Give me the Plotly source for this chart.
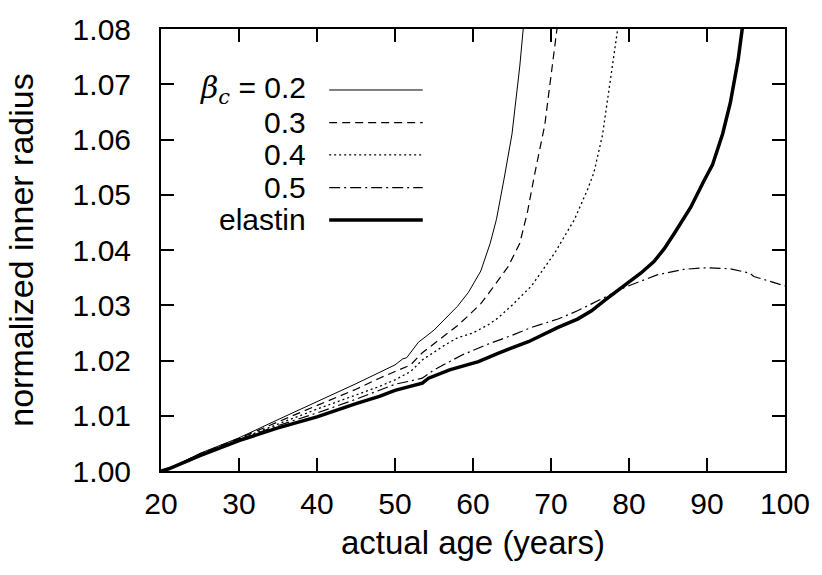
import plotly.graph_objects as go

# Normalized inner radius vs. actual age, for several collagen thresholds and elastin-only
age_b02 = [20, 21, 25, 30, 35, 40, 45, 50, 51, 51.5, 52, 53, 55, 56.4, 58, 59.4, 61, 62.2, 63, 64, 65, 66, 66.5]
rad_b02 = [1.000, 1.0004, 1.0032, 1.0060, 1.0093, 1.0125, 1.0158, 1.0192, 1.0203, 1.0205, 1.0215, 1.0233,
           1.0255, 1.0275, 1.0298, 1.0323, 1.0362, 1.0412, 1.0455, 1.0530, 1.0610, 1.0733, 1.0810]

age_b03 = [20, 21, 25, 30, 35, 40, 45, 48, 50, 52, 53.5, 55, 56.4, 58, 59.4, 61, 62.4, 64.5, 66, 67,
           67.9, 69.2, 70, 70.7, 70.9]
rad_b03 = [1.000, 1.0004, 1.0031, 1.0059, 1.0089, 1.0118, 1.0148, 1.0168, 1.0180, 1.0192, 1.0214, 1.0230,
           1.0245, 1.0263, 1.0281, 1.0303, 1.0329, 1.0370, 1.0412, 1.0470, 1.0537, 1.0626, 1.0715, 1.0795, 1.0815]

age_b04 = [20, 21, 25, 30, 35, 40, 45, 48, 50, 52, 53.5, 56.4, 58, 60, 62, 63.2, 65, 67.5, 69, 70.5,
           71.7, 73, 74.7, 75.5, 76.6, 77.7, 78.5, 78.7]
rad_b04 = [1.000, 1.0004, 1.0030, 1.0058, 1.0085, 1.0112, 1.0138, 1.0153, 1.0165, 1.0180, 1.0201, 1.0228,
           1.0241, 1.0250, 1.0265, 1.0277, 1.0300, 1.0335, 1.0365, 1.0395, 1.0424, 1.0455, 1.0510, 1.0540,
           1.0608, 1.0715, 1.0795, 1.0815]

age_b05 = [20, 21, 25, 30, 35, 40, 45, 48, 50, 52, 53.5, 55, 58.6, 62, 64.9, 67.5, 70.9, 73.4, 75.1,
           79.4, 83.6, 87, 90, 93, 95.5, 96, 100]
rad_b05 = [1.000, 1.0004, 1.0029, 1.0057, 1.0082, 1.0105, 1.0130, 1.0147, 1.0157, 1.0163, 1.0168, 1.0183,
           1.0210, 1.0230, 1.0245, 1.0260, 1.0275, 1.0290, 1.0302, 1.0332, 1.0355, 1.0365, 1.0368, 1.0366,
           1.0358, 1.0352, 1.0335]

age_el = [20, 21, 25, 30, 35, 40, 45, 48, 50, 52, 53.5, 54.3, 57, 60.7, 63.2, 67.1, 70.9, 73.4, 75.2,
          77, 79.4, 81.5, 83.2, 84.5, 85.8, 87.9, 89.6, 90.7, 92, 93, 94, 94.5, 94.7]
rad_el = [1.000, 1.0004, 1.0028, 1.0055, 1.0078, 1.0098, 1.0122, 1.0135, 1.0146, 1.0153, 1.0159, 1.0168,
          1.0183, 1.0198, 1.0213, 1.0234, 1.0260, 1.0275, 1.0290, 1.0310, 1.0335, 1.0358, 1.0379, 1.0402,
          1.0430, 1.0477, 1.0525, 1.0554, 1.0610, 1.0667, 1.0745, 1.0799, 1.0820]

x_ticks = [20, 30, 40, 50, 60, 70, 80, 90, 100]
y_ticks = [1.00, 1.01, 1.02, 1.03, 1.04, 1.05, 1.06, 1.07, 1.08]

legend_labels = ["<span style='font-family:DejaVu Serif'><i>β</i><sub><i>c</i></sub></span> = 0.2",
                 "0.3", "0.4", "0.5", "elastin"]

series = [
    (age_b02, rad_b02, dict(color="black", width=1)),
    (age_b03, rad_b03, dict(color="black", width=1.2, dash="8px,5px")),
    (age_b04, rad_b04, dict(color="black", width=1.3, dash="2px,3px")),
    (age_b05, rad_b05, dict(color="black", width=1.2, dash="11px,4px,2px,4px")),
    (age_el, rad_el, dict(color="black", width=3.5)),
]

FONT = "Liberation Sans, Arial, sans-serif"

fig = go.Figure()
for xs, ys, ln in series:
    fig.add_trace(go.Scatter(x=xs, y=ys, mode="lines", line=ln, showlegend=False,
                             cliponaxis=True))

# hand-built key: label on the left, line sample on the right
row_y = [0.862, 0.788, 0.715, 0.641, 0.568]
for lab, yy, (_, _, ln) in zip(legend_labels, row_y, series):
    fig.add_annotation(x=0.235, y=yy, xref="paper", yref="paper", text=lab,
                       showarrow=False, xanchor="right", yanchor="middle",
                       font=dict(family=FONT, size=30, color="black"))
    fig.add_shape(type="line", xref="paper", yref="paper", x0=0.2695, x1=0.4195,
                  y0=yy, y1=yy, line=ln)

axis_common = dict(
    showline=True, linecolor="black", linewidth=2, mirror="ticks",
    ticks="inside", ticklen=13, tickwidth=2, tickcolor="black",
    showgrid=False, zeroline=False,
    tickfont=dict(family=FONT, size=30, color="black"),
)

fig.update_xaxes(range=[20, 100], tickvals=x_ticks, ticktext=[str(v) for v in x_ticks],
                 title=dict(text="actual age (years)", font=dict(family=FONT, size=33, color="black"),
                            standoff=12),
                 ticklabelstandoff=5, **axis_common)
fig.update_yaxes(range=[1.0, 1.08], tickvals=y_ticks, ticktext=[f"{v:.2f}" for v in y_ticks],
                 title=dict(text="normalized inner radius", font=dict(family=FONT, size=34, color="black"),
                            standoff=29),
                 ticklabelstandoff=22, **axis_common)

fig.update_layout(width=822, height=575, margin=dict(l=161, r=34, t=22, b=104),
                  plot_bgcolor="white", paper_bgcolor="white")

fig.write_html("out.html")
